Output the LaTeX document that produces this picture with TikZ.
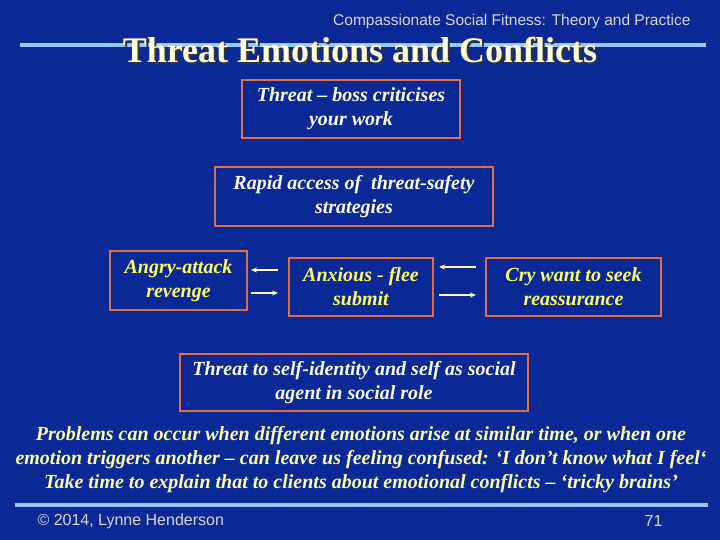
\documentclass[tikz,border=0pt]{standalone}
\usepackage{fontspec}
\setmainfont{Liberation Serif}
\setsansfont{Liberation Sans}
\usetikzlibrary{arrows.meta}
\definecolor{bg}{RGB}{10,40,150}
\definecolor{rule}{RGB}{150,200,250}
\definecolor{boxline}{RGB}{225,110,70}
\definecolor{ytext}{RGB}{255,255,100}
\definecolor{ctext}{RGB}{255,255,170}
\definecolor{titlec}{RGB}{255,255,215}
\definecolor{greyt}{RGB}{215,215,225}
\tikzset{
  x=1pt, y=-1pt,
  ebox/.style={draw=boxline, line width=2.6pt, inner sep=0pt, align=center,
    font=\fontsize{20}{24}\selectfont\bfseries\itshape},
  wtext/.style={text=white},
  yetext/.style={text=ytext},
  arr/.style={draw=ctext, line width=1.2pt, -{Stealth[length=6pt,width=5pt]}},
  rulel/.style={draw=rule, line width=4.5pt}
}
\newcommand{\titletext}{Threat Emotions and Conflicts}
\begin{document}
\begin{tikzpicture}
\fill[bg] (0,0) rectangle (720,540);
\useasboundingbox (0,0) rectangle (720,540);
% header
\node[anchor=east, text=greyt, font=\sffamily\fontsize{15.5}{17}\selectfont] (hdr) at (694,21) {Compassionate Social Fitness: Theory and Practice};
\coordinate (r1a) at (20,45); \coordinate (r1b) at (706,45);
\draw[rulel] (r1a) -- (r1b);
\node[text=titlec, font=\fontsize{36}{40}\selectfont\bfseries] (title) at (360,51) {\makebox[0pt][l]{\kern2pt\raisebox{-2pt}{\textcolor{black!80}{\titletext}}}\titletext};
% boxes
\node[ebox, wtext, minimum width=218pt, minimum height=58pt] (threat) at (351,109) {Threat -- boss criticises\\your work};
\node[ebox, wtext, minimum width=278pt, minimum height=59pt] (rapid) at (354,196.5) {Rapid access of \ threat-safety\\strategies};
\node[ebox, yetext, minimum width=137pt, minimum height=59pt] (angry) at (178.5,280.5) {Angry-attack\\revenge};
\node[ebox, yetext, minimum width=144pt, minimum height=58pt] (anx) at (361,287) {Anxious - flee\\submit};
\node[ebox, yetext, minimum width=175pt, minimum height=58pt] (cry) at (573.5,287) {Cry want to seek\\reassurance};
\node[ebox, wtext, minimum width=348pt, minimum height=57pt] (self) at (354,382.5) {Threat to self-identity and self as social\\agent in social role};
% arrows
\coordinate (a1s) at (278,270); \coordinate (a1e) at (251,270);
\coordinate (a2s) at (251,293); \coordinate (a2e) at (278,293);
\coordinate (a3s) at (476,267); \coordinate (a3e) at (439,267);
\coordinate (a4s) at (439,295); \coordinate (a4e) at (476,295);
\draw[arr] (a1s) -- (a1e);
\draw[arr] (a2s) -- (a2e);
\draw[arr] (a3s) -- (a3e);
\draw[arr] (a4s) -- (a4e);
% bottom text
\node[text=ctext, align=center, font=\fontsize{20}{24}\selectfont\bfseries\itshape] (para) at (361,460) {Problems can occur when different emotions arise at similar time, or when one\\emotion triggers another -- can leave us feeling confused: `I don't know what I feel`\\Take time to explain that to clients about emotional conflicts -- `tricky brains'};
\coordinate (r2a) at (15,505); \coordinate (r2b) at (708,505);
\draw[rulel] (r2a) -- (r2b);
\node[anchor=west, text=greyt, font=\sffamily\fontsize{16}{18}\selectfont] (copy) at (34,521) {© 2014, Lynne Henderson};
\node[anchor=east, text=greyt, font=\sffamily\fontsize{16}{18}\selectfont] (pg) at (666,521) {71};
\end{tikzpicture}
\end{document}
